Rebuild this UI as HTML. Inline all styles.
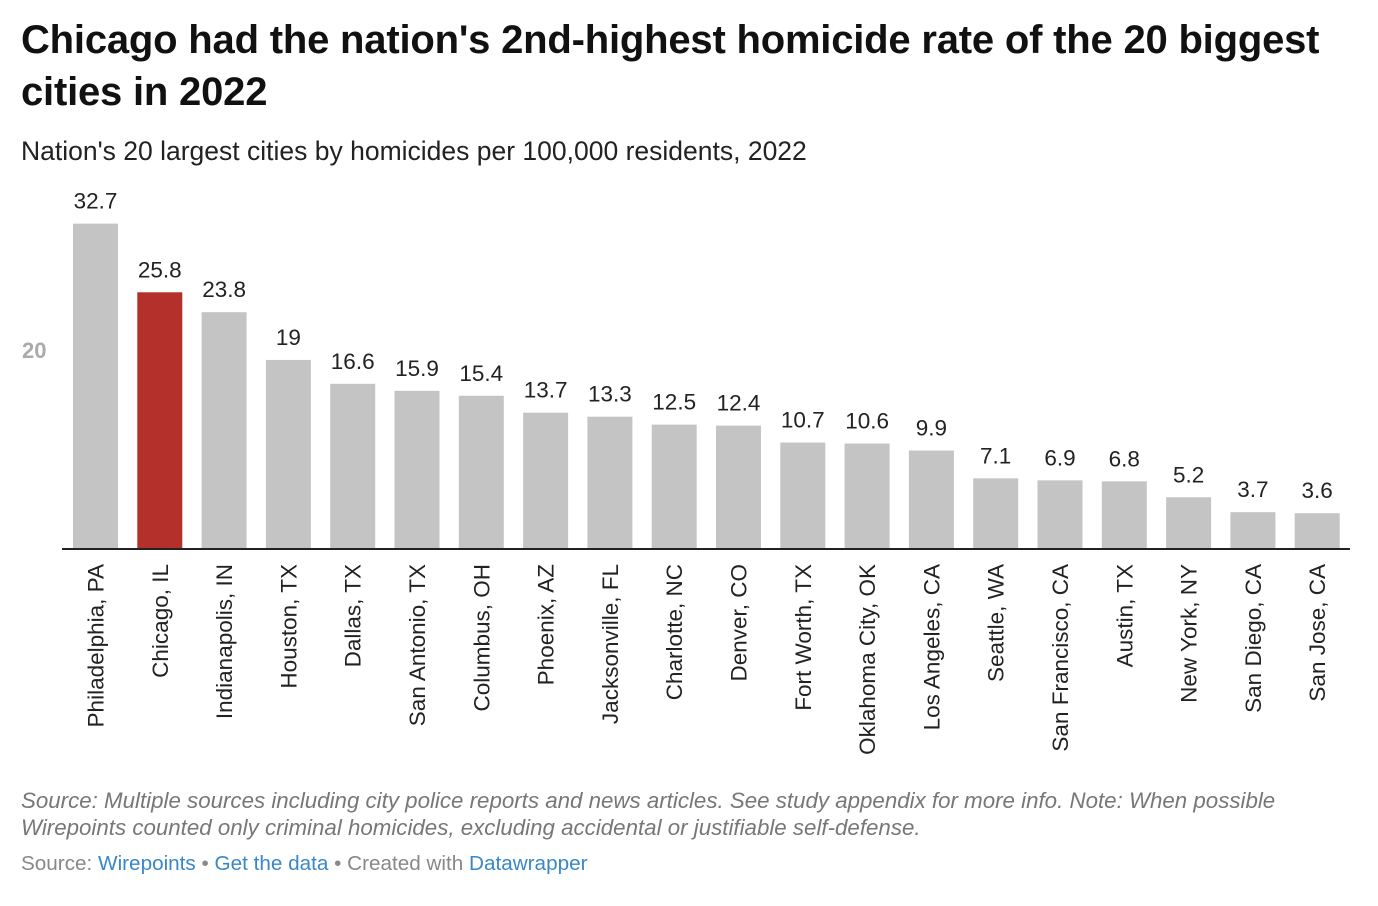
<!DOCTYPE html>
<html><head><meta charset="utf-8">
<style>
body{margin:0;background:#fff;width:1378px;height:906px;overflow:hidden;font-family:"Liberation Sans",sans-serif;}
#title{position:absolute;left:21px;top:14px;width:1340px;font-size:40px;font-weight:bold;line-height:52px;color:#111;margin:0;letter-spacing:-0.2px}
#sub{position:absolute;left:21px;top:136px;font-size:26.5px;color:#222}
#notes{position:absolute;left:21px;top:787px;font-size:22.3px;font-style:italic;color:#777;line-height:27px}
#foot{position:absolute;left:21px;top:852px;font-size:20.7px;color:#888}
#foot a{color:#3a87c8;text-decoration:none}
svg{position:absolute;left:0;top:0}
</style></head><body>
<h1 id="title">Chicago had the nation's 2nd-highest homicide rate of the 20 biggest cities in 2022</h1>
<div id="sub">Nation's 20 largest cities by homicides per 100,000 residents, 2022</div>
<svg id="chart" width="1378" height="906"></svg>
<div id="notes">Source: Multiple sources including city police reports and news articles. See study appendix for more info. Note: When possible<br>Wirepoints counted only criminal homicides, excluding accidental or justifiable self-defense.</div>
<div id="foot">Source: <a href="#">Wirepoints</a> • <a href="#">Get the data</a> • Created with <a href="#">Datawrapper</a></div>
<script>
const categories=["Philadelphia, PA","Chicago, IL","Indianapolis, IN","Houston, TX","Dallas, TX","San Antonio, TX","Columbus, OH","Phoenix, AZ","Jacksonville, FL","Charlotte, NC","Denver, CO","Fort Worth, TX","Oklahoma City, OK","Los Angeles, CA","Seattle, WA","San Francisco, CA","Austin, TX","New York, NY","San Diego, CA","San Jose, CA"];
const values=[32.7,25.8,23.8,19,16.6,15.9,15.4,13.7,13.3,12.5,12.4,10.7,10.6,9.9,7.1,6.9,6.8,5.2,3.7,3.6];
const yTicks=[20];
const highlight="Chicago, IL";
const svg=document.getElementById('chart');
const NS="http://www.w3.org/2000/svg";
const base=549, scale=9.95, x0=73, step=64.3, bw=45;
const y=v=>base-v*scale;
const x=i=>x0+i*step;
function mk(t,a){const e=document.createElementNS(NS,t);for(const k in a)e.setAttribute(k,a[k]);svg.appendChild(e);return e;}
yTicks.forEach(t=>{const e=mk('text',{x:22,y:y(t)+8,'font-size':22,fill:'#aaa','font-weight':'bold'});e.textContent=t;

});
values.forEach((v,i)=>{
 const r=mk('rect',{x:x(i),y:y(v),width:bw,height:v*scale,fill:categories[i]===highlight?'#b3302b':'#c4c4c4'});
 
 
 const t=mk('text',{x:x(i)+bw/2,y:y(v)-15,'text-anchor':'middle','font-size':22.5,fill:'#222'});t.textContent=v;
 
 
 const c=mk('text',{x:0,y:0,'text-anchor':'end','font-size':22.5,fill:'#222',transform:`translate(${x(i)+bw/2+8},564) rotate(-90)`});c.textContent=categories[i];
 
 
});
const ax=mk('line',{x1:62,x2:1350,y1:base,y2:base,stroke:'#222','stroke-width':2});


</script>
</body></html>
